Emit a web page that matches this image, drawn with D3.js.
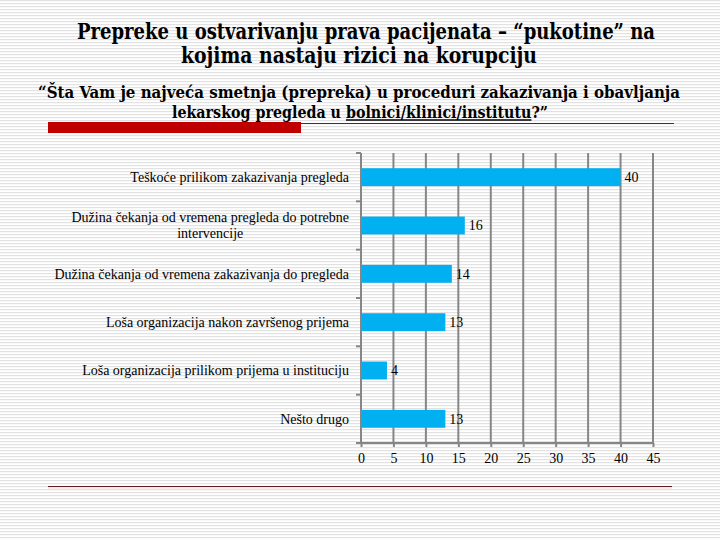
<!DOCTYPE html>
<html><head><meta charset="utf-8">
<script src="https://cdn.jsdelivr.net/npm/d3@7"></script>
<style>body{margin:0;background:#fff}svg{display:block}</style>
</head><body>
<svg id="c" width="720" height="540"></svg>
<script>
const categories = [
  ["Teškoće prilikom zakazivanja pregleda"],
  ["Dužina čekanja od vremena pregleda do potrebne", "intervencije"],
  ["Dužina čekanja od vremena zakazivanja do pregleda"],
  ["Loša organizacija nakon završenog prijema"],
  ["Loša organizacija prilikom prijema u instituciju"],
  ["Nešto drugo"]
];
const values = [40, 16, 14, 13, 4, 13];
const xTicks = [0, 5, 10, 15, 20, 25, 30, 35, 40, 45];
const titleLines = ["Prepreke u ostvarivanju prava pacijenata – “pukotine” na", "kojima nastaju rizici na korupciju"];
const subtitleLine1 = "“Šta Vam je najveća smetnja (prepreka) u proceduri zakazivanja i obavljanja";
const subtitleLine2 = "lekarskog pregleda u bolnici/klinici/institutu?”";
const underlined = "bolnici/klinici/institutu";

const FONT = '"Liberation Serif","Times New Roman",serif';
const TFONT = '"DejaVu Serif Condensed","Liberation Serif",serif';
const svg = d3.select("#c");
const defs = svg.append("defs");
const pat = defs.append("pattern").attr("id","stripes").attr("patternUnits","userSpaceOnUse")
  .attr("width",6).attr("height",3);
pat.append("rect").attr("width",6).attr("height",3).attr("fill","#ffffff");
pat.append("rect").attr("y",0).attr("width",6).attr("height",1.2).attr("fill","#e2e2e2");
svg.append("rect").attr("width",720).attr("height",540).attr("fill","url(#stripes)");

// Title
svg.append("text").attr("x",366).attr("y",38.5).attr("text-anchor","middle")
  .style("font-family",TFONT).attr("font-weight","bold").attr("font-size",22)
  .attr("fill","#000").attr("textLength",578).attr("lengthAdjust","spacingAndGlyphs").text(titleLines[0]);
svg.append("text").attr("x",359).attr("y",63).attr("text-anchor","middle")
  .style("font-family",TFONT).attr("font-weight","bold").attr("font-size",22)
  .attr("fill","#000").attr("textLength",356).attr("lengthAdjust","spacingAndGlyphs").text(titleLines[1]);

// Subtitle
svg.append("text").attr("x",359).attr("y",98).attr("text-anchor","middle")
  .style("font-family",TFONT).attr("font-weight","bold").attr("font-size",17)
  .attr("fill","#000").attr("textLength",642).attr("lengthAdjust","spacingAndGlyphs")
  .text(subtitleLine1);
const st2 = svg.append("text").attr("x",172).attr("y",117.5)
  .style("font-family",TFONT).attr("font-weight","bold").attr("font-size",17)
  .attr("fill","#000").attr("textLength",376).attr("lengthAdjust","spacingAndGlyphs")
  .text(subtitleLine2);
{
  const n = st2.node();
  const s = subtitleLine2.indexOf(underlined);
  const e = s + underlined.length - 1;
  const x1 = n.getStartPositionOfChar(s).x;
  const x2 = n.getEndPositionOfChar(e).x;
  svg.append("line").attr("x1",x1).attr("x2",x2).attr("y1",120).attr("y2",120)
    .attr("stroke","#000").attr("stroke-width",1.3);
}

// Decorative lines
svg.append("rect").attr("x",48).attr("y",122).attr("width",253).attr("height",11).attr("fill","#c00000");
svg.append("line").attr("x1",301).attr("x2",674).attr("y1",123.5).attr("y2",123.5)
  .attr("stroke","#6b2020").attr("stroke-width",1.2);
svg.append("line").attr("x1",48).attr("x2",672).attr("y1",486.5).attr("y2",486.5)
  .attr("stroke","#5e1e1e").attr("stroke-width",1.2);
svg.append("line").attr("x1",48).attr("x2",672).attr("y1",488).attr("y2",488)
  .attr("stroke","#fbe4e4").attr("stroke-width",1.5);

// Scales
const x = d3.scaleLinear().domain([0,45]).range([361,653]);
const y = d3.scaleBand().domain(d3.range(categories.length)).range([153,443])
  .paddingInner(0.63).paddingOuter(0.315);
const step = y.step();

// Gridlines
svg.append("g").selectAll("line").data(xTicks.slice(1)).join("line")
  .attr("x1",d=>x(d)).attr("x2",d=>x(d)).attr("y1",153).attr("y2",443)
  .attr("stroke","#868686").attr("stroke-width",2);

// Bars
svg.append("g").selectAll("rect").data(values).join("rect")
  .attr("x",x(0)).attr("y",(d,i)=>y(i)).attr("width",d=>x(d)-x(0)).attr("height",y.bandwidth())
  .attr("fill","#00b0f0");

// Y axis line and ticks
svg.append("line").attr("x1",x(0)).attr("x2",x(0)).attr("y1",153).attr("y2",444)
  .attr("stroke","#868686").attr("stroke-width",2);
svg.append("g").selectAll("line").data(d3.range(categories.length+1)).join("line")
  .attr("x1",x(0)-5).attr("x2",x(0)).attr("y1",d=>153+d*step).attr("y2",d=>153+d*step)
  .attr("stroke","#868686").attr("stroke-width",2);

// X axis
const xAxis = d3.axisBottom(x).tickValues(xTicks).tickSize(4).tickSizeOuter(0);
const gx = svg.append("g").attr("transform","translate(0,443)").call(xAxis);
gx.attr("font-family",null).attr("font-size",null);
gx.select(".domain").attr("stroke","#868686").attr("stroke-width",2).attr("d","M357,0H653");
gx.selectAll(".tick line").attr("stroke","#868686").attr("stroke-width",2);
gx.selectAll(".tick text").style("font-family",FONT).attr("font-size",14)
  .attr("fill","#000").attr("y",10).attr("dy","0.71em");

// Value labels
svg.append("g").selectAll("text").data(values).join("text")
  .attr("x",d=>x(d)+4).attr("y",(d,i)=>y(i)+y.bandwidth()/2).attr("dy","0.35em")
  .style("font-family",FONT).attr("font-size",14).attr("fill","#000").text(d=>d);

// Category labels
const right = 349;
categories.forEach((lines,i)=>{
  const cy = y(i)+y.bandwidth()/2;
  const g = svg.append("g");
  const texts = lines.map((l,j)=>g.append("text").style("font-family",FONT)
    .attr("font-size",14).attr("fill","#000").text(l));
  const widths = texts.map(t=>t.node().getComputedTextLength());
  const maxW = d3.max(widths);
  const cx = right - maxW/2;
  const lh = 16;
  const y0 = cy - (lines.length-1)*lh/2;
  texts.forEach((t,j)=>t.attr("x",cx).attr("text-anchor","middle").attr("y",y0+j*lh).attr("dy","0.35em"));
});
</script>
</body></html>
